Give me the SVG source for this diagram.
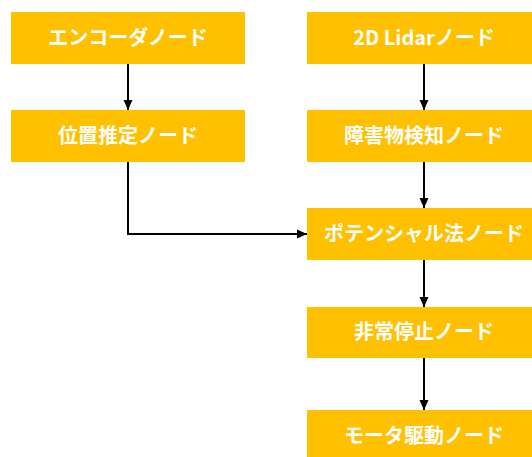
<svg xmlns="http://www.w3.org/2000/svg" width="532" height="457" viewBox="0 0 532 457">
<defs>
<style>
.box{fill:#FFC000;}
.lbl{fill:#FFFFFF;font-family:"Noto Sans CJK JP","Noto Sans",sans-serif;font-weight:bold;font-size:20px;text-anchor:middle;}
.conn{fill:none;stroke:#000000;stroke-width:2;}
</style>
<marker id="ah" markerWidth="10" markerHeight="10" refX="10" refY="5" orient="auto" markerUnits="userSpaceOnUse">
<path d="M0,0.5 L10,5 L0,9.5 Z" fill="#000000"/>
</marker>
</defs>
<rect width="532" height="457" fill="#FFFFFF"/>
<g id="connectors">
<path class="conn" d="M128,64 V110" marker-end="url(#ah)"/>
<path class="conn" d="M128,162 V234 H307" marker-end="url(#ah)"/>
<path class="conn" d="M424,64 V110" marker-end="url(#ah)"/>
<path class="conn" d="M424,162 V208" marker-end="url(#ah)"/>
<path class="conn" d="M424,260 V307" marker-end="url(#ah)"/>
<path class="conn" d="M424,358 V410" marker-end="url(#ah)"/>
</g>
<g id="encoder">
<rect class="box" x="11" y="12" width="234" height="52"/>
<text class="lbl" x="128" y="45">エンコーダノード</text>
</g>
<g id="localization">
<rect class="box" x="11" y="110" width="234" height="52"/>
<text class="lbl" x="128" y="143">位置推定ノード</text>
</g>
<g id="lidar">
<rect class="box" x="307" y="12" width="234" height="52"/>
<text class="lbl" x="424" y="45">2D Lidarノード</text>
</g>
<g id="obstacle">
<rect class="box" x="307" y="110" width="234" height="52"/>
<text class="lbl" x="424" y="143">障害物検知ノード</text>
</g>
<g id="potential">
<rect class="box" x="307" y="208" width="234" height="52"/>
<text class="lbl" x="424" y="241">ポテンシャル法ノード</text>
</g>
<g id="estop">
<rect class="box" x="307" y="307" width="234" height="51"/>
<text class="lbl" x="424" y="339">非常停止ノード</text>
</g>
<g id="motor">
<rect class="box" x="307" y="410" width="234" height="52"/>
<text class="lbl" x="424" y="443">モータ駆動ノード</text>
</g>
</svg>
